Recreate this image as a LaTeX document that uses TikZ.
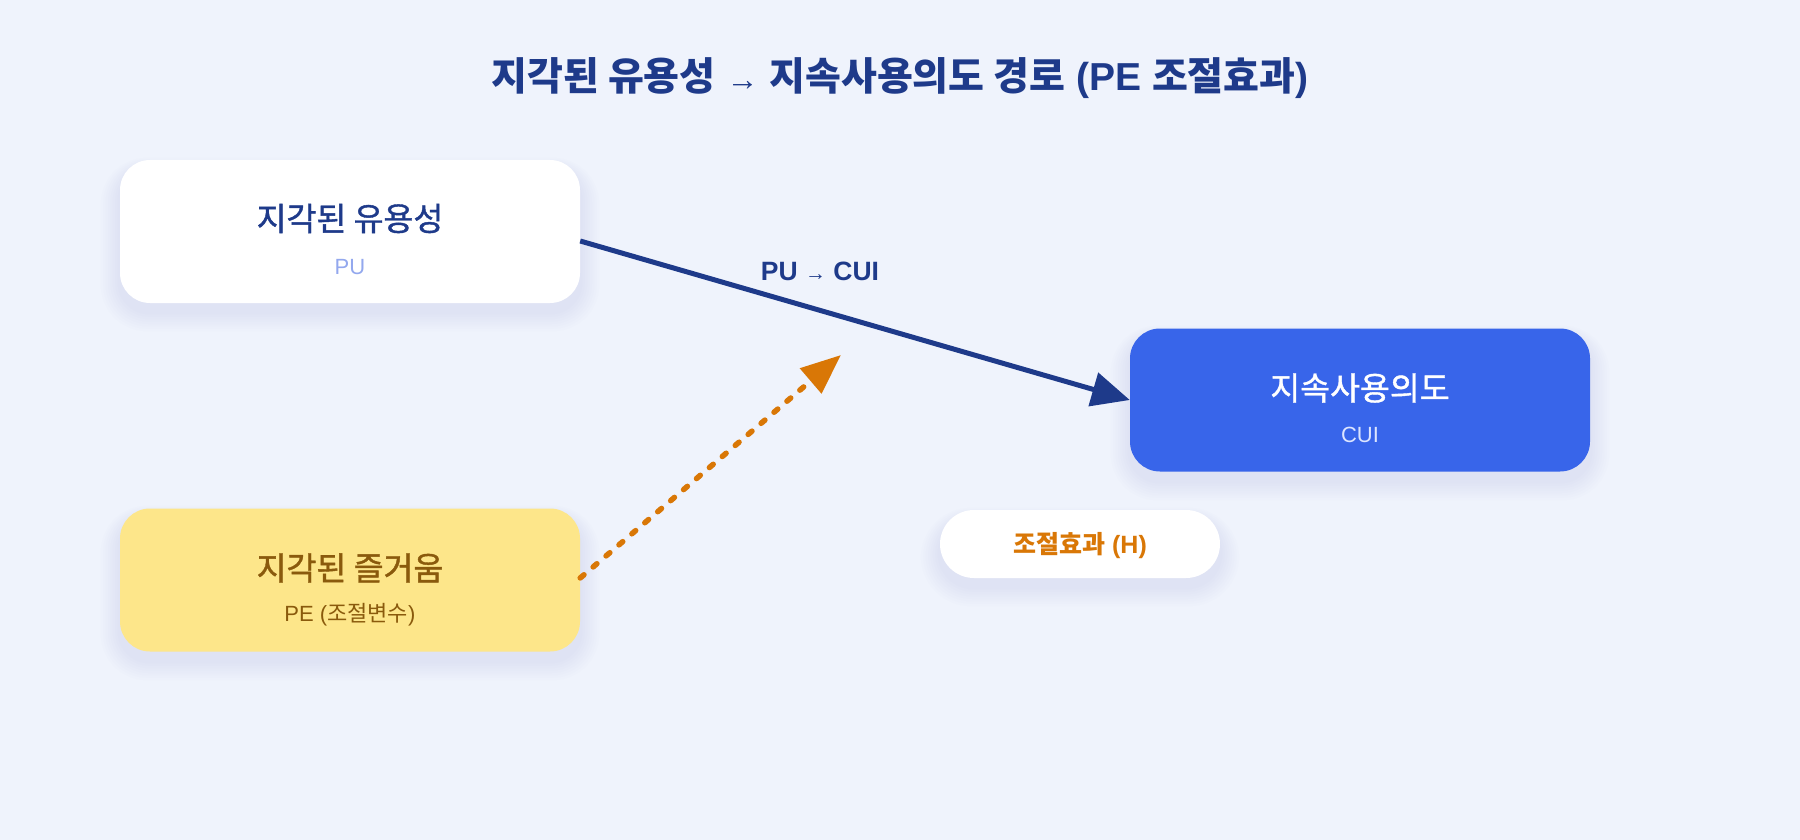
\documentclass[tikz,border=0pt]{standalone}
\usepackage{fontspec}
\setmainfont{Liberation Sans}
\newfontfamily\kr{Noto Sans CJK KR}
\newfontfamily\krmed[FakeBold=1.2]{Noto Sans CJK KR}
\usetikzlibrary{arrows.meta,calc}
\definecolor{bgc}{HTML}{EFF3FC}
\definecolor{navy}{HTML}{1E3A8A}
\definecolor{lightblue}{HTML}{93A8EE}
\definecolor{cuiblue}{HTML}{3865EA}
\definecolor{cuisub}{HTML}{DCE5FF}
\definecolor{yel}{HTML}{FDE68A}
\definecolor{brown}{HTML}{8A5A0C}
\definecolor{orng}{HTML}{D97706}
\definecolor{shad}{HTML}{AFC0E6}
\tikzset{
  boxstyle/.style={rectangle, rounded corners=30pt, minimum width=460pt, minimum height=143pt, inner sep=0pt},
  titletext/.style={font=\krmed\fontsize{32.5}{38}\selectfont, inner sep=0pt},
  subtext/.style={font=\fontsize{22}{26}\selectfont, inner sep=0pt},
}
\newcommand{\softshadow}[5]{% x1 y1 x2 y2 radius
  \foreach \i in {1,...,8}{
    \fill[shad, opacity=0.028, rounded corners={#5pt+\i*2pt}]
      ($(#1,#2)+(-\i*2.4,-\i*1.4+9)$) rectangle ($(#3,#4)+(\i*2.4,\i*2.4+9)$);
  }
}
\begin{document}
\begin{tikzpicture}[x=1pt,y=-1pt]
\useasboundingbox (0,0) rectangle (1800,840);
\fill[bgc] (0,0) rectangle (1800,840);

% title
\node[font=\bfseries\fontsize{39}{45}\selectfont, text=navy, inner sep=0pt] (title) at (900,78)
  {{\kr 지각된 유용성} {\mdseries\fontsize{32}{38}\selectfont →} {\kr 지속사용의도 경로} (PE {\kr 조절효과})};

% shadows
\softshadow{120}{160}{580}{303}{30}
\softshadow{120}{508}{580}{652}{30}
\softshadow{1130}{328}{1590}{472}{30}
\softshadow{940}{510}{1220}{578}{34}

% boxes
\node[boxstyle, fill=white] (pu) at (350,231.5) {};
\node[titletext, text=navy] (putitle) at ($(pu.center)+(0,-13)$) {지각된 유용성};
\node[subtext, text=lightblue] (pusub) at ($(pu.center)+(0,35.5)$) {PU};

\node[boxstyle, fill=yel] (pe) at (350,580) {};
\node[titletext, text=brown] (petitle) at ($(pe.center)+(0,-12)$) {지각된 즐거움};
\node[subtext, text=brown] (pesub) at ($(pe.center)+(0,35)$) {PE ({\kr 조절변수})};

\node[boxstyle, fill=cuiblue] (cui) at (1360,400) {};
\node[titletext, text=white] (cuititle) at ($(cui.center)+(0,-12)$) {지속사용의도};
\node[subtext, text=cuisub] (cuisub) at ($(cui.center)+(0,35)$) {CUI};

% moderation pill
\node[rectangle, rounded corners=34pt, fill=white, minimum width=280pt, minimum height=68pt, inner sep=0pt] (hpill) at (1080,544) {};
\node[font=\bfseries\fontsize{25}{30}\selectfont, text=orng, inner sep=0pt] (hlabel) at (1080,546) {{\kr 조절효과} (H)};

% main path
\draw[line width=5pt, navy, -{Triangle[length=38pt,width=34pt]}] ($(pu.east)+(0,9.5)$) -- (cui.west);
\node[font=\bfseries\fontsize{26.5}{31}\selectfont, text=navy, inner sep=0pt] (pathlabel) at (820,271)
  {PU {\mdseries\fontsize{21}{25}\selectfont →} CUI};

% moderation arrow
\coordinate (modtip) at (841,355);
\draw[line width=5.5pt, orng, line cap=round, dash pattern=on 5pt off 12pt,
      -{Triangle[length=40pt,width=32pt]}] ($(pe.east)+(0,-2)$) -- (modtip);
\end{tikzpicture}
\end{document}
